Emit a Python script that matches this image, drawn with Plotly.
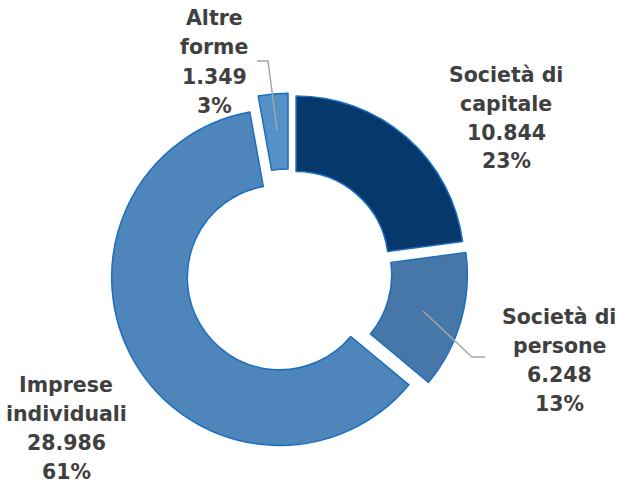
import plotly.graph_objects as go

categories = ["Società di capitale", "Società di persone", "Imprese individuali", "Altre forme"]
label_lines = [["Società di", "capitale"], ["Società di", "persone"], ["Imprese", "individuali"], ["Altre", "forme"]]
values = [10844, 6248, 28986, 1349]
colors = ["#07386b", "#4677a8", "#4e85ba", "#5590c7"]

W, H = 619, 482
total = sum(values)

def fx(x):
    return x / W

def fy(y):
    return 1 - y / H

def fmt_int(v):
    return f"{v:,}".replace(",", ".")

fig = go.Figure(go.Pie(
    labels=categories,
    values=values,
    hole=0.55,
    sort=False,
    direction="clockwise",
    rotation=0,
    pull=[0.064] * 4,
    marker=dict(colors=colors, line=dict(color="#1a6fbf", width=1.5)),
    textinfo="none",
    hoverinfo="label+value+percent",
    domain=dict(x=[fx(110.25), fx(467.75)], y=[fy(450.75), fy(93.25)]),
    showlegend=False,
))

# label placement (pixels: centre x, centre y)
label_pos = [(506, 118), (559, 360), (66, 428), (214, 62)]
line_gap = 29.0
annotations = []
for lines, v, (px, py) in zip(label_lines, values, label_pos):
    pct = f"{round(v / total * 100)}%"
    all_lines = lines + [fmt_int(v), pct]
    n = len(all_lines)
    for i, t in enumerate(all_lines):
        yy = py + (i - (n - 1) / 2) * line_gap
        annotations.append(dict(
            x=fx(px), y=fy(yy), xref="paper", yref="paper",
            text=t, showarrow=False, xanchor="center", yanchor="middle",
            font=dict(family="DejaVu Sans", size=20.5, color="#404040", weight="bold"),
        ))

def path(pts):
    s = ""
    for i, (x, y) in enumerate(pts):
        s += ("M" if i == 0 else "L") + f" {fx(x)} {fy(y)} "
    return s

shapes = [
    dict(type="path", xref="paper", yref="paper", path=path([(257, 61), (268, 61), (277, 130)]),
         line=dict(color="#a6a6a6", width=1.5)),
    dict(type="path", xref="paper", yref="paper", path=path([(423, 311), (472, 357), (485, 357)]),
         line=dict(color="#a6a6a6", width=1.5)),
]

fig.update_layout(
    width=W, height=H,
    margin=dict(l=0, r=0, t=0, b=0),
    paper_bgcolor="white", plot_bgcolor="white",
    annotations=annotations, shapes=shapes,
)

fig.write_html(
    "out.html",
    config={"displayModeBar": False},
    post_script="document.body.style.margin='0';document.body.style.overflow='hidden';",
)
